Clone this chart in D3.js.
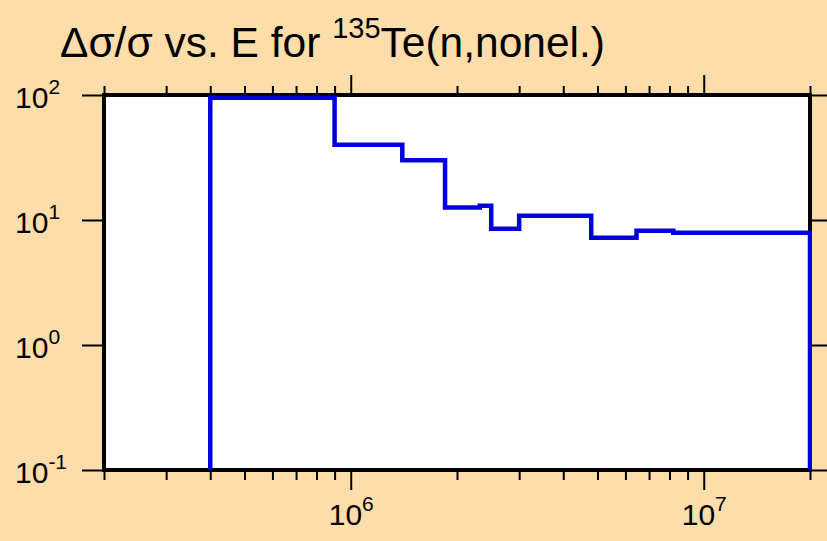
<!DOCTYPE html>
<html>
<head>
<meta charset="utf-8">
<script src="https://cdn.jsdelivr.net/npm/d3@7"></script>
<style>
  html, body { margin: 0; padding: 0; background: #fddeab; }
  svg { display: block; font-family: "Liberation Sans", Arial, sans-serif; }
</style>
</head>
<body>
<div id="chart"></div>
<script>
// bin edges (eV) and relative uncertainty per bin
const binEdges = [4e5, 9e5, 1.4e6, 1.85e6, 2.32e6, 2.5e6, 3e6, 4.8e6, 6.45e6, 8.2e6, 2e7];
const binValues = [95, 40, 30, 12.6, 13, 8.5, 10.8, 7.2, 8.2, 7.9];
const xDomain = [2e5, 2e7];
const yDomain = [0.1, 100];
const xMajorTicks = [1e6, 1e7];
const yMajorTicks = [0.1, 1, 10, 100];
const titleText = ['Δσ/σ vs. E for ', '135', 'Te(n,nonel.)'];

const width = 827, height = 541;
const plot = { left: 104, right: 810, top: 95, bottom: 470 };

const svg = d3.select('#chart')
    .append('svg')
    .attr('width', width)
    .attr('height', height);

svg.append('rect')
    .attr('width', width)
    .attr('height', height)
    .attr('fill', '#fddeab');

const x = d3.scaleLog().domain(xDomain).range([plot.left, plot.right]);
const y = d3.scaleLog().domain(yDomain).range([plot.bottom, plot.top]);

// minor ticks: every 1..9 × decade inside the domain
const xMinorTicks = [];
for (let e = 5; e <= 7; e++) {
    for (let m = 1; m <= 9; m++) {
        const v = m * Math.pow(10, e);
        if (v >= xDomain[0] && v <= xDomain[1] && !xMajorTicks.includes(v)) xMinorTicks.push(v);
    }
}

// plot background
svg.append('rect')
    .attr('x', plot.left)
    .attr('y', plot.top)
    .attr('width', plot.right - plot.left)
    .attr('height', plot.bottom - plot.top)
    .attr('fill', '#ffffff');

function styleAxis(g) {
    g.select('.domain').remove();
    g.selectAll('.tick line').attr('stroke', '#000').attr('stroke-width', 2);
}

// x axes (bottom + top), minor then major
svg.append('g')
    .attr('transform', `translate(0,${plot.bottom})`)
    .call(d3.axisBottom(x).tickValues(xMinorTicks).tickSize(10).tickFormat(''))
    .call(styleAxis);
const xBottomMajor = svg.append('g')
    .attr('transform', `translate(0,${plot.bottom})`)
    .call(d3.axisBottom(x).tickValues(xMajorTicks).tickSize(20).tickFormat(''))
    .call(styleAxis);
svg.append('g')
    .attr('transform', `translate(0,${plot.top})`)
    .call(d3.axisTop(x).tickValues(xMinorTicks).tickSize(9).tickFormat(''))
    .call(styleAxis);
svg.append('g')
    .attr('transform', `translate(0,${plot.top})`)
    .call(d3.axisTop(x).tickValues(xMajorTicks).tickSize(20).tickFormat(''))
    .call(styleAxis);

// y axes (left + right)
const yLeft = svg.append('g')
    .attr('transform', `translate(${plot.left},0)`)
    .call(d3.axisLeft(y).tickValues(yMajorTicks).tickSize(22).tickFormat(''))
    .call(styleAxis);
svg.append('g')
    .attr('transform', `translate(${plot.right},0)`)
    .call(d3.axisRight(y).tickValues(yMajorTicks).tickSize(20).tickFormat(''))
    .call(styleAxis);

function powerLabel(textSel, v) {
    const exp = Math.round(Math.log10(v));
    textSel.append('tspan').text('10');
    textSel.append('tspan')
        .attr('font-size', 21)
        .attr('dy', -14)
        .text(exp);
}

// x tick labels
xBottomMajor.selectAll('.tick').each(function(d) {
    const t = d3.select(this).append('text')
        .attr('y', 55)
        .attr('text-anchor', 'middle')
        .attr('fill', '#000')
        .attr('font-size', 30);
    powerLabel(t, d);
});

// y tick labels, left aligned
yLeft.selectAll('.tick').each(function(d) {
    const t = d3.select(this).append('text')
        .attr('x', 15 - plot.left)
        .attr('y', 12.5)
        .attr('text-anchor', 'start')
        .attr('fill', '#000')
        .attr('font-size', 30);
    powerLabel(t, d);
});

// plot frame
svg.append('rect')
    .attr('x', plot.left)
    .attr('y', plot.top)
    .attr('width', plot.right - plot.left)
    .attr('height', plot.bottom - plot.top)
    .attr('fill', 'none')
    .attr('stroke', '#000')
    .attr('stroke-width', 4);

// step line
svg.append('clipPath')
    .attr('id', 'clip')
    .append('rect')
    .attr('x', plot.left)
    .attr('y', plot.top)
    .attr('width', plot.right - plot.left + 2)
    .attr('height', plot.bottom - plot.top);

const stepPoints = [[binEdges[0], yDomain[0]]];
binValues.forEach((v, i) => stepPoints.push([binEdges[i], v]));
stepPoints.push([binEdges[binEdges.length - 1], binValues[binValues.length - 1]]);
stepPoints.push([binEdges[binEdges.length - 1], yDomain[0]]);

const line = d3.line()
    .x(d => x(d[0]))
    .y(d => y(d[1]))
    .curve(d3.curveStepAfter);

svg.append('path')
    .datum(stepPoints)
    .attr('clip-path', 'url(#clip)')
    .attr('d', line)
    .attr('fill', 'none')
    .attr('stroke', '#0000dd')
    .attr('stroke-width', 4.5)
    .attr('stroke-linejoin', 'miter');

// title
const title = svg.append('text')
    .attr('x', 60)
    .attr('y', 57)
    .attr('fill', '#000')
    .attr('font-size', 42.5);
title.append('tspan').text(titleText[0]);
title.append('tspan').attr('font-size', 29).attr('dy', -19).text(titleText[1]);
title.append('tspan').attr('dy', 19).text(titleText[2]);
</script>
</body>
</html>
